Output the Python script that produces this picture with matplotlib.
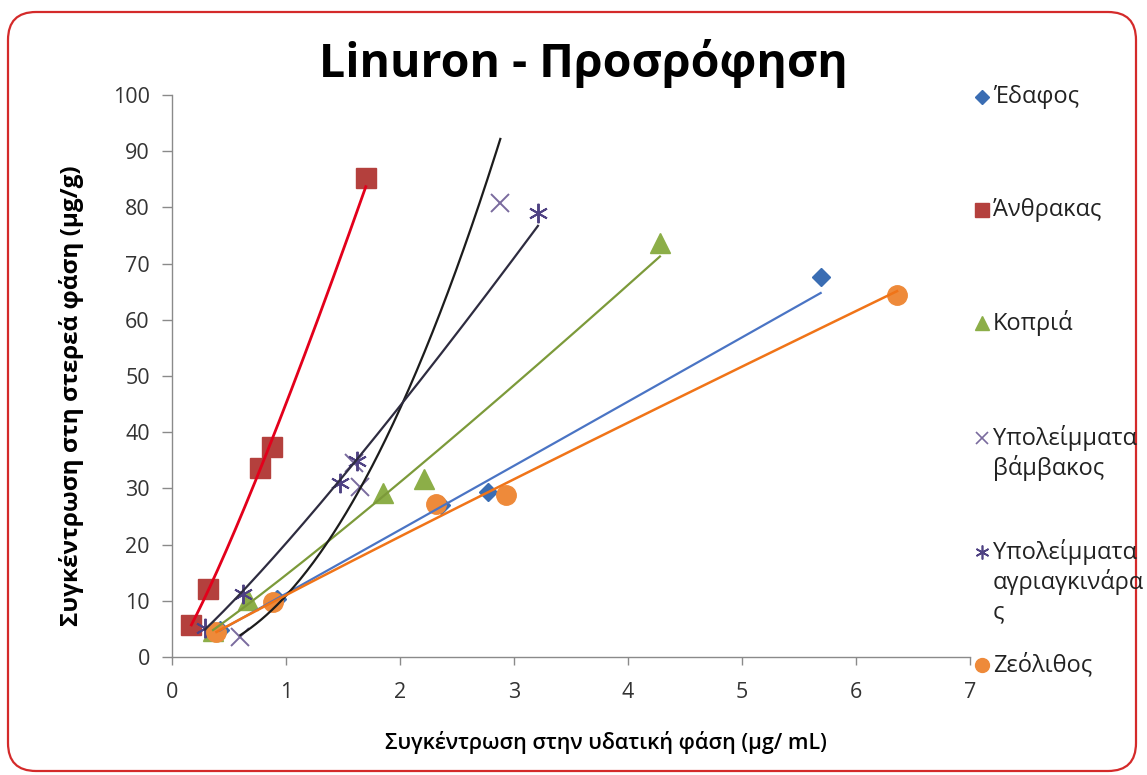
import numpy as np
import matplotlib
matplotlib.use("Agg")
import matplotlib.pyplot as plt
from matplotlib.lines import Line2D
from matplotlib.patches import FancyBboxPatch
from matplotlib.transforms import IdentityTransform

FONT = ['Open Sans', 'DejaVu Sans']
plt.rcParams['font.family'] = FONT

# ---------------- data ----------------
title = "Linuron - Προσρόφηση"
xlabel = "Συγκέντρωση στην υδατική φάση (μg/ mL)"
ylabel = "Συγκέντρωση στη στερεά φάση (μg/g)"

series_names = ["Έδαφος", "Άνθρακας", "Κοπριά",
                "Υπολείμματα\nβάμβακος",
                "Υπολείμματα\nαγριαγκινάρα\nς",
                "Ζεόλιθος"]

soil_x = [0.42, 0.92, 2.36, 2.77, 5.69]
soil_y = [4.8, 10.3, 27.0, 29.4, 67.6]

charcoal_x = [0.17, 0.32, 0.77, 0.88, 1.70]
charcoal_y = [5.7, 12.1, 33.6, 37.3, 85.2]

manure_x = [0.36, 0.67, 1.85, 2.21, 4.28]
manure_y = [4.6, 10.2, 29.2, 31.6, 73.7]

cotton_x = [0.60, 1.60, 1.65, 2.88]
cotton_y = [3.6, 34.5, 30.2, 80.8]

artichoke_x = [0.29, 0.62, 1.47, 1.62, 3.21]
artichoke_y = [5.1, 11.2, 31.0, 34.8, 79.0]

zeolite_x = [0.39, 0.89, 2.32, 2.93, 6.36]
zeolite_y = [4.4, 9.8, 27.3, 28.8, 64.4]

x_ticks = [0, 1, 2, 3, 4, 5, 6, 7]
y_ticks = [0, 10, 20, 30, 40, 50, 60, 70, 80, 90, 100]

# ---------------- styles ----------------
series_data = [(soil_x, soil_y), (charcoal_x, charcoal_y), (manure_x, manure_y),
               (cotton_x, cotton_y), (artichoke_x, artichoke_y), (zeolite_x, zeolite_y)]
markers = ['D', 's', '^', 'x', (6, 2, 0), 'o']
marker_sizes = [9, 14, 14, 13, 14, 14]
marker_colors = ['#3a6db3', '#b4403d', '#8cae48', '#7a6b9e', '#4f4283', '#ee8a3a']
trend_colors = ['#4a74c4', '#e3001b', '#7c9a3a', '#1c1c1c', '#2e2c40', '#f07418']
trend_widths = [1.6, 2.0, 1.6, 1.6, 1.6, 1.8]
legend_sizes = [7, 10, 10, 9, 10, 10]

# ---------------- figure ----------------
W, H = 1147, 775
fig = plt.figure(figsize=(W / 100, H / 100), dpi=100)
fig.patch.set_facecolor('white')

frame = FancyBboxPatch((8, 4), 1128, 759, boxstyle="round,pad=0,rounding_size=28",
                       transform=IdentityTransform(), facecolor='none',
                       edgecolor='#d42a2a', linewidth=1.6, zorder=0)
fig.add_artist(frame)

ax = fig.add_axes([172 / W, 1 - 657 / H, (970 - 172) / W, (657 - 95) / H])
ax.set_facecolor('none')

for i, (xs, ys) in enumerate(series_data):
    xs = np.asarray(xs, float)
    ys = np.asarray(ys, float)
    mew = 1.4 if i in (3, 4) else 1.0
    ax.plot(xs, ys, linestyle='none', marker=markers[i], markersize=marker_sizes[i],
            color=marker_colors[i], markeredgecolor=marker_colors[i],
            markeredgewidth=mew, zorder=3)
    # power trend line y = a * x^b (fitted from the series values)
    b, lna = np.polyfit(np.log(xs), np.log(ys), 1)
    xf = np.linspace(xs.min(), xs.max(), 200)
    ax.plot(xf, np.exp(lna) * xf ** b, color=trend_colors[i], lw=trend_widths[i], zorder=4)

ax.set_xlim(0, 7)
ax.set_ylim(0, 100)
ax.set_xticks(x_ticks)
ax.set_yticks(y_ticks)
for s in ('top', 'right'):
    ax.spines[s].set_visible(False)
for s in ('left', 'bottom'):
    ax.spines[s].set_color('#8a8a8a')
    ax.spines[s].set_linewidth(1.0)
ax.tick_params(axis='x', length=6, width=1.0, color='#8a8a8a', pad=12,
               labelsize=15.5, labelcolor='#333333')
ax.tick_params(axis='y', length=7, width=1.0, color='#8a8a8a', pad=9,
               labelsize=15.5, labelcolor='#333333')

fig.text(583 / W, 1 - 63 / H, title, ha='center', va='center',
         fontsize=33.5, fontweight='bold', color='black')
fig.text(606 / W, 1 - 742 / H, xlabel, ha='center', va='center',
         fontsize=15.5, fontweight='semibold', color='black')
fig.text(72 / W, 1 - 396 / H, ylabel, ha='center', va='center', rotation=90,
         fontsize=17.5, fontweight='bold', color='black')

# ---------------- legend (right side, Excel-like spacing) ----------------
first_line_y = [97, 210, 323, 438, 552, 665]
line_step = 30
for i, name in enumerate(series_names):
    ypx = first_line_y[i]
    mew = 1.2 if i in (3, 4) else 1.0
    fig.add_artist(Line2D([982 / W], [1 - ypx / H], transform=fig.transFigure,
                          marker=markers[i], markersize=legend_sizes[i], linestyle='none',
                          color=marker_colors[i], markeredgecolor=marker_colors[i],
                          markeredgewidth=mew))
    for k, line in enumerate(name.split('\n')):
        fig.text(993 / W, 1 - (ypx + k * line_step) / H, line, ha='left', va='center',
                 fontsize=17, color='#222222')

fig.savefig('out.png', dpi=100)
